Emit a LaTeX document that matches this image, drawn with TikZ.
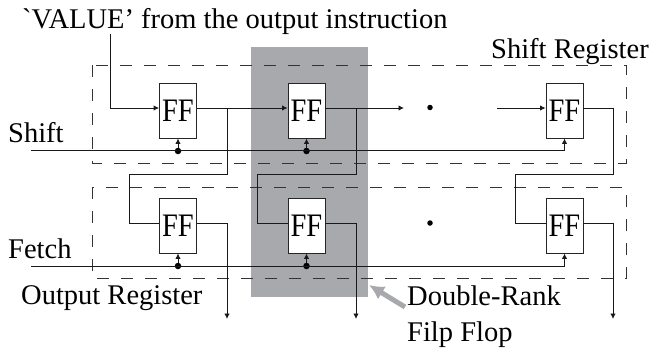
\documentclass[tikz,border=0pt]{standalone}
\usepackage{fontspec}
\setmainfont{Liberation Serif}
\newfontfamily\plainserif{Liberation Serif}
\usetikzlibrary{arrows.meta}
\definecolor{rankgray}{HTML}{A7A9AC}
\definecolor{dashgray}{HTML}{333333}
\tikzset{
  ffbox/.style={draw=black!85,fill=white,line width=0.9pt,minimum width=37pt,minimum height=55pt,inner sep=0pt,font=\fontsize{28.5}{28.5}\selectfont},
  wire/.style={line width=0.9pt,draw=black!90},
  arrowwire/.style={wire,-{Latex[length=5.5pt,width=5.5pt]}},
  regbox/.style={draw=dashgray,line width=0.9pt,dash pattern=on 12pt off 12pt},
  lbl/.style={anchor=base west,inner sep=0pt,font=\fontsize{28.5}{28.5}\selectfont},
  tap/.style={circle,fill=black,inner sep=0pt,minimum size=6.5pt},
  bullet/.style={circle,fill=black,inner sep=0pt,minimum size=5.5pt}
}
\begin{document}
\begin{tikzpicture}[x=1pt,y=-1pt]
\useasboundingbox (0,0) rectangle (649,348);
\fill[rankgray] (251,47) rectangle (368,297);
\draw[regbox] (92,65) rectangle (626,163);
\draw[regbox] (92,187) rectangle (626,278);
% flip flops
\foreach \n/\x/\y in {a/178/110.5,b/306.5/110.5,c/564.5/110.5,d/178/225.5,e/306.5/225.5,f/564.5/225.5}
  \node[ffbox] (\n) at (\x,\y) {\scalebox{1}[1.15]{FF}};
% labels
\node[lbl] (tvalue) at (22,28) {{\plainserif `}VALUE’ from the output instruction};
\node[lbl] (tsr) at (491,58) {Shift Register};
\node[lbl] (tshift) at (8,142) {Shift};
\node[lbl] (tfetch) at (8,258) {Fetch};
\node[lbl] (tor) at (21,304) {Output Register};
\node[lbl] (tdr) at (407,305) {Double-Rank};
\node[lbl] (tff) at (407,341) {Filp Flop};
% free ends
\coordinate (vin) at (110,34);
\coordinate (sin) at (31,150);
\coordinate (fin) at (31,266);
\coordinate (bout1) at (227,319);
\coordinate (bout2) at (356,319);
\coordinate (bout3) at (613,319);
\coordinate (dotin) at (404,108);
\coordinate (dotout) at (497,108);
% dots
\node[bullet] (d1) at (430,107.5) {};
\node[bullet] (d2) at (430,223) {};
% clock taps
\node[tap] (ta) at (178,151) {};
\node[tap] (tb) at (306.5,151) {};
\node[tap] (td) at (178,266) {};
\node[tap] (te) at (306.5,266) {};
\draw[arrowwire] (ta) -- (a.south);
\draw[arrowwire] (tb) -- (b.south);
\draw[arrowwire] (td) -- (d.south);
\draw[arrowwire] (te) -- (e.south);
\draw[arrowwire] (sin) -| (c.south);
\draw[arrowwire] (fin) -| (f.south);
% data
\draw[arrowwire] (vin) |- ([yshift=2.5pt]a.west);
\draw[arrowwire] ([yshift=2.5pt]a.east) -- ([yshift=2.5pt]b.west);
\draw[arrowwire] ([yshift=2.5pt]b.east) -- (dotin);
\draw[arrowwire] (dotout) -- ([yshift=2.5pt]c.west);
\draw[wire] ([yshift=2.5pt]c.east) -| (613,174) -- (515,174) |- ([yshift=2.5pt]f.west);
\draw[wire] (227,108) -- (227,174) -- (129,174) |- ([yshift=2.5pt]d.west);
\draw[wire] (356,108) -- (356,174) -- (257,174) |- ([yshift=2.5pt]e.west);
\draw[arrowwire] ([yshift=2.5pt]d.east) -| (bout1);
\draw[arrowwire] ([yshift=2.5pt]e.east) -| (bout2);
\draw[arrowwire] ([yshift=2.5pt]f.east) -| (bout3);
% gray pointer
\draw[rankgray,line width=5pt,-{Latex[length=15pt,width=15pt]}] (405,307) -- (369,285);
\end{tikzpicture}
\end{document}
